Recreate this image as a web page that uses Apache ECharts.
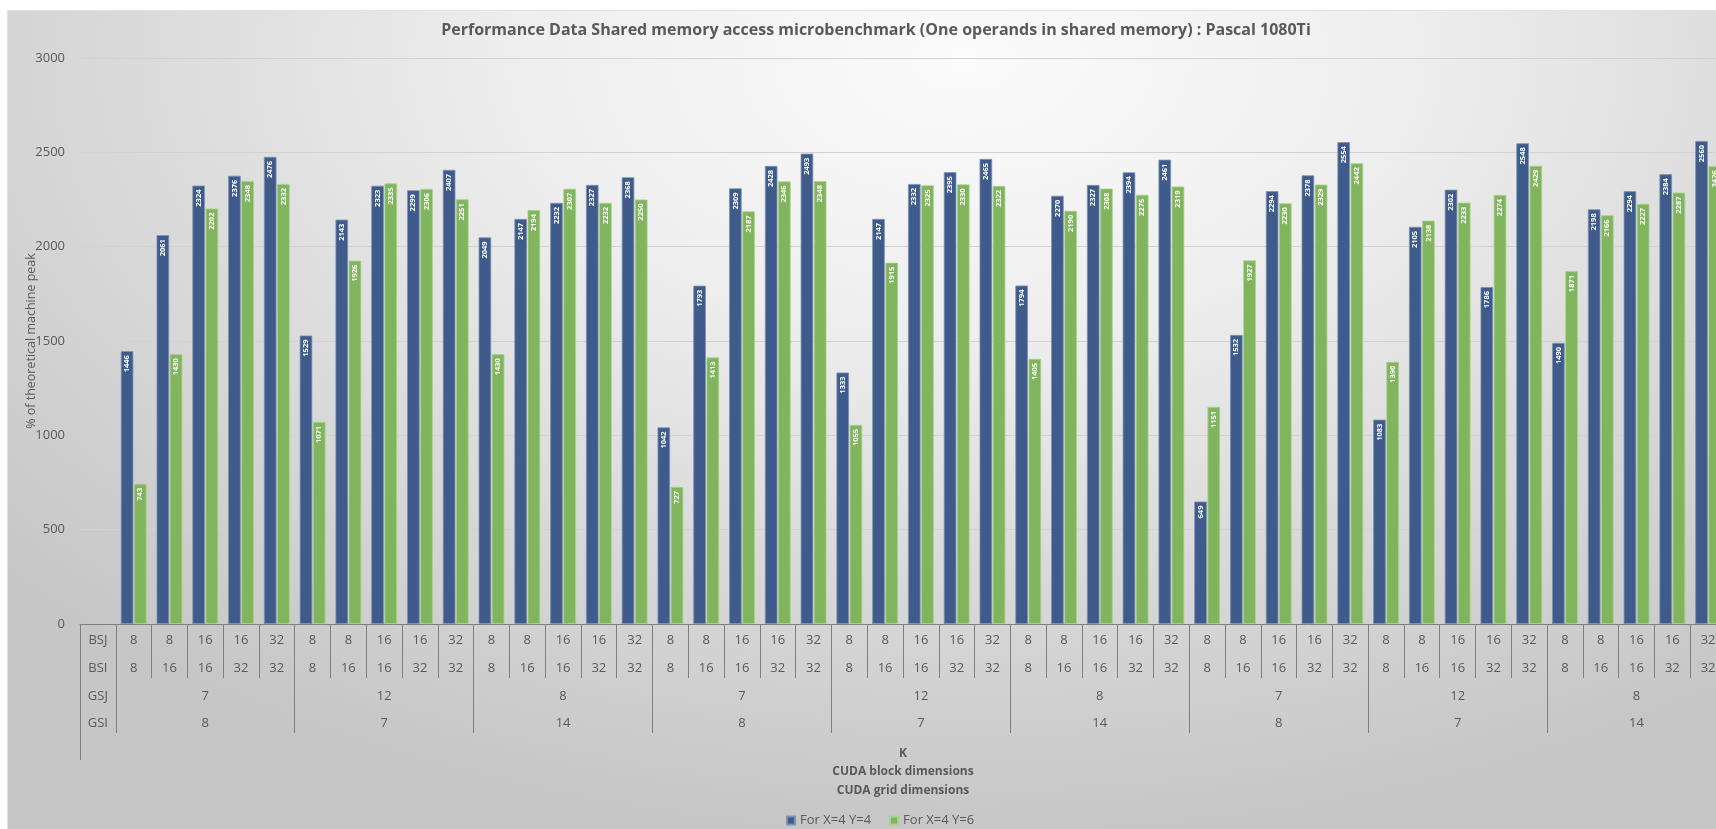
<!DOCTYPE html>
<html>
<head>
<meta charset="utf-8">
<script src="https://cdn.jsdelivr.net/npm/echarts@6/dist/echarts.min.js"></script>
<style>
  html, body { margin: 0; padding: 0; background: #ffffff; }
  #bg {
    position: absolute; left: 7px; top: 10px; width: 1709px; height: 819px;
    background: radial-gradient(ellipse 75% 95% at 56% 6%, #fbfbfb 0%, #eeeeee 35%, #dadada 65%, #c6c6c6 100%);
    border-left: 1px solid #e2e2e2; border-top: 1px solid #e2e2e2;
  }
  #chart { position: absolute; left: 0; top: 0; width: 1716px; height: 829px; }
</style>
</head>
<body>
<div id="bg"></div>
<div id="chart"></div>
<script>
// Shared-memory microbenchmark results, Pascal 1080Ti.
// Nine launch configurations (GSJ x GSI grid), five block shapes (BSJ x BSI) each.

const titleText = 'Performance Data Shared memory access microbenchmark (One operands in shared memory) : Pascal 1080Ti';
const seriesNames = ['For X=4 Y=4', 'For X=4 Y=6'];
const rowNames = ['BSJ', 'BSI', 'GSJ', 'GSI'];

// Block dimensions, one entry per bar pair
const bsj = [8, 8, 16, 16, 32,  8, 8, 16, 16, 32,  8, 8, 16, 16, 32,
             8, 8, 16, 16, 32,  8, 8, 16, 16, 32,  8, 8, 16, 16, 32,
             8, 8, 16, 16, 32,  8, 8, 16, 16, 32,  8, 8, 16, 16, 32];
const bsi = [8, 16, 16, 32, 32,  8, 16, 16, 32, 32,  8, 16, 16, 32, 32,
             8, 16, 16, 32, 32,  8, 16, 16, 32, 32,  8, 16, 16, 32, 32,
             8, 16, 16, 32, 32,  8, 16, 16, 32, 32,  8, 16, 16, 32, 32];
// Grid dimensions, one entry per group of five
const gsj = [7, 12, 8, 7, 12, 8, 7, 12, 8];
const gsi = [8, 7, 14, 8, 7, 14, 8, 7, 14];

const valuesXY4 = [1446, 2061, 2324, 2376, 2476,
                   1529, 2143, 2323, 2299, 2407,
                   2049, 2147, 2232, 2327, 2368,
                   1042, 1793, 2309, 2428, 2493,
                   1333, 2147, 2332, 2395, 2465,
                   1794, 2270, 2327, 2394, 2461,
                   649, 1532, 2294, 2378, 2554,
                   1083, 2105, 2302, 1786, 2548,
                   1490, 2198, 2294, 2384, 2560];
const valuesXY6 = [743, 1430, 2202, 2348, 2332,
                   1071, 1926, 2335, 2306, 2251,
                   1430, 2194, 2307, 2232, 2250,
                   727, 1413, 2187, 2346, 2348,
                   1055, 1915, 2325, 2330, 2322,
                   1405, 2190, 2308, 2275, 2319,
                   1151, 1927, 2230, 2329, 2442,
                   1390, 2138, 2233, 2274, 2429,
                   1871, 2166, 2227, 2287, 2426];

const yMin = 0, yMax = 3000, yStep = 500;
const groupSize = 5;

// The first category slot holds the row captions of the label table.
const rowBSJ = [rowNames[0]].concat(bsj.map(String));
const rowBSI = [rowNames[1]].concat(bsi.map(String));
const expandGroups = (vals) => vals.reduce((acc, v) => acc.concat(Array(groupSize).fill(String(v))), []);
const rowGSJ = [rowNames[2]].concat(expandGroups(gsj));
const rowGSI = [rowNames[3]].concat(expandGroups(gsi));

const textColor = '#595959';
const lineColor = '#7f7f7f';
const font = '"Open Sans", "Noto Sans", sans-serif';

const groupCenter = (i) => i === 0 || (i - 1) % groupSize === Math.floor(groupSize / 2);
const groupStart = (i) => i > 0 && (i - 1) % groupSize === 0;

const baseAxis = {
  type: 'category', gridIndex: 0, position: 'bottom', offset: 0,
  axisLine: { show: false }, axisTick: { show: false }, splitLine: { show: false },
  axisLabel: { interval: 0, fontSize: 13, color: textColor, fontFamily: font }
};
const axis = (extra) => echarts.util.merge(echarts.util.clone(baseAxis), extra, true);

const chart = echarts.init(document.getElementById('chart'), null, { renderer: 'canvas' });

chart.setOption({
  backgroundColor: 'transparent',
  animation: false,
  textStyle: { fontFamily: font },
  title: {
    text: titleText, left: 871, top: 17, textAlign: 'center',
    textStyle: { fontSize: 16, fontWeight: 'bold', color: textColor, fontFamily: font }
  },
  legend: {
    data: seriesNames, left: 781, top: 809, icon: 'rect',
    itemWidth: 8, itemHeight: 8, itemGap: 18,
    textStyle: { fontSize: 13, color: textColor, fontFamily: font }
  },
  grid: { left: 80, right: -10, top: 58, bottom: 205, containLabel: false, outerBoundsMode: 'none' },
  xAxis: [
    axis({
      data: rowBSJ,
      axisLine: { show: true, lineStyle: { color: lineColor, width: 1 } },
      axisTick: { show: true, interval: 0, length: 54, lineStyle: { color: lineColor, width: 1 } },
      axisLabel: { margin: 10 }
    }),
    axis({ data: rowBSI, axisLabel: { margin: 38 } }),
    axis({
      data: rowGSJ,
      axisTick: { show: true, interval: groupStart, length: 109, lineStyle: { color: lineColor, width: 1 } },
      axisLabel: { interval: groupCenter, margin: 66 }
    }),
    axis({
      data: rowGSI,
      axisLabel: { interval: groupCenter, margin: 93 },
      name: 'K\nCUDA block dimensions\nCUDA grid dimensions',
      nameLocation: 'middle', nameGap: 120, nameMoveOverlap: false,
      nameTextStyle: { fontSize: 12, fontWeight: 'bold', color: textColor, lineHeight: 18.5, fontFamily: font }
    }),
    axis({
      data: rowBSJ,
      axisTick: { show: true, interval: (i) => i === 0, length: 136, lineStyle: { color: lineColor, width: 1 } },
      axisLabel: { show: false }
    })
  ],
  yAxis: {
    type: 'value', min: yMin, max: yMax, interval: yStep,
    axisLine: { show: false }, axisTick: { show: false },
    axisLabel: { margin: 15, fontSize: 13, color: textColor, fontFamily: font, formatter: (v) => String(v) },
    splitLine: { lineStyle: { color: '#d2d2d2', width: 1 } },
    name: '% of theoretical machine peak', nameLocation: 'middle', nameGap: 42, nameMoveOverlap: false,
    nameTextStyle: { fontSize: 12.5, color: textColor, fontFamily: font }
  },
  series: [
    { values: valuesXY4, color: '#3f5b8b', border: '#7d92b3' },
    { values: valuesXY6, color: '#80b55e', border: '#a9d08e' }
  ].map((s, k) => ({
    name: seriesNames[k],
    type: 'bar',
    xAxisIndex: 0, yAxisIndex: 0,
    data: ['-'].concat(s.values),
    barCategoryGap: '28%', barGap: '5%',
    itemStyle: { color: s.color, borderColor: s.border, borderWidth: 0.8 },
    label: {
      show: true, position: 'insideTop', distance: 4, rotate: 90,
      align: 'right', verticalAlign: 'middle',
      color: '#ffffff', fontSize: 7.5, fontWeight: 'bold', fontFamily: font
    }
  }))
});
</script>
</body>
</html>
